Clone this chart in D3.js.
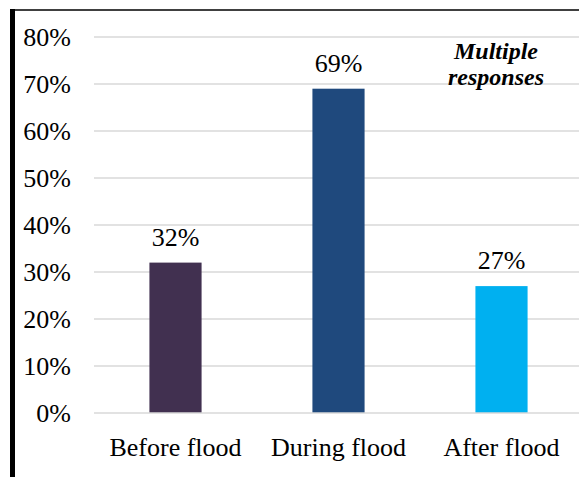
<!DOCTYPE html>
<html>
<head>
<meta charset="utf-8">
<script src="https://cdn.jsdelivr.net/npm/d3@7"></script>
<style>
  html, body { margin: 0; padding: 0; background: #fff; }
  svg { display: block; }
</style>
</head>
<body>
<svg id="chart" width="579" height="477"></svg>
<script>
// Share of respondents by flood phase (multiple responses allowed)
const categories = ["Before flood", "During flood", "After flood"];
const values = [32, 69, 27];
const barColors = ["#413050", "#1F497D", "#00B0F0"];
const yTicks = [0, 10, 20, 30, 40, 50, 60, 70, 80];
const noteLines = ["Multiple", "responses"];

const svg = d3.select("#chart");
const W = 579, H = 477;
const serif = "'Liberation Serif', 'Times New Roman', serif";

const x = d3.scaleBand()
  .domain(categories)
  .range([94, 583])
  .paddingInner(0.68)
  .paddingOuter(0.34);

const y = d3.scaleLinear()
  .domain([0, 80])
  .range([413, 37]);

// Frame: heavy left rule and thin top rule
svg.append("rect")
  .attr("x", 10).attr("y", 9)
  .attr("width", 5).attr("height", H - 9)
  .attr("fill", "#000");
svg.append("line")
  .attr("x1", 10).attr("x2", W)
  .attr("y1", 10).attr("y2", 10)
  .attr("stroke", "#000").attr("stroke-width", 1.5);

// Horizontal gridlines
svg.append("g")
  .selectAll("line")
  .data(yTicks.filter(t => t > 0))
  .join("line")
  .attr("x1", 94).attr("x2", W)
  .attr("y1", d => y(d)).attr("y2", d => y(d))
  .attr("stroke", "#d9d9d9").attr("stroke-width", 1.5);

// Y axis tick labels
const yAxis = d3.axisLeft(y)
  .tickValues(yTicks)
  .tickFormat(d => d + "%")
  .tickSize(0)
  .tickPadding(0);
const yg = svg.append("g")
  .attr("transform", "translate(71,0)")
  .call(yAxis);
yg.select(".domain").remove();
yg.selectAll("text")
  .attr("font-family", serif)
  .attr("font-size", 26)
  .attr("fill", "#000")
  .attr("dy", "0.34em");

// Bars
svg.append("g")
  .selectAll("rect")
  .data(values)
  .join("rect")
  .attr("x", (d, i) => x(categories[i]))
  .attr("width", x.bandwidth())
  .attr("y", d => y(d))
  .attr("height", d => y(0) - y(d))
  .attr("fill", (d, i) => barColors[i]);

// Baseline drawn over the bars
svg.append("line")
  .attr("x1", 94).attr("x2", W)
  .attr("y1", y(0)).attr("y2", y(0))
  .attr("stroke", "#d9d9d9").attr("stroke-width", 1.5);

// Value labels
svg.append("g")
  .selectAll("text")
  .data(values)
  .join("text")
  .attr("x", (d, i) => x(categories[i]) + x.bandwidth() / 2)
  .attr("y", d => y(d) - 17)
  .attr("text-anchor", "middle")
  .attr("font-family", serif)
  .attr("font-size", 26)
  .attr("fill", "#000")
  .text(d => d + "%");

// Category labels
const xAxis = d3.axisBottom(x).tickSize(0).tickPadding(0);
const xg = svg.append("g")
  .attr("transform", `translate(0,${y(0)})`)
  .call(xAxis);
xg.select(".domain").remove();
xg.selectAll("text")
  .attr("font-family", serif)
  .attr("font-size", 26)
  .attr("fill", "#000")
  .attr("dy", null)
  .attr("y", 43);

// Note
svg.append("text")
  .attr("x", 496)
  .attr("y", 59)
  .attr("text-anchor", "middle")
  .attr("font-family", serif)
  .attr("font-size", 24)
  .attr("font-weight", "bold")
  .attr("font-style", "italic")
  .attr("fill", "#000")
  .selectAll("tspan")
  .data(noteLines)
  .join("tspan")
  .attr("x", 496)
  .attr("dy", (d, i) => i === 0 ? 0 : 26)
  .text(d => d);
</script>
</body>
</html>
